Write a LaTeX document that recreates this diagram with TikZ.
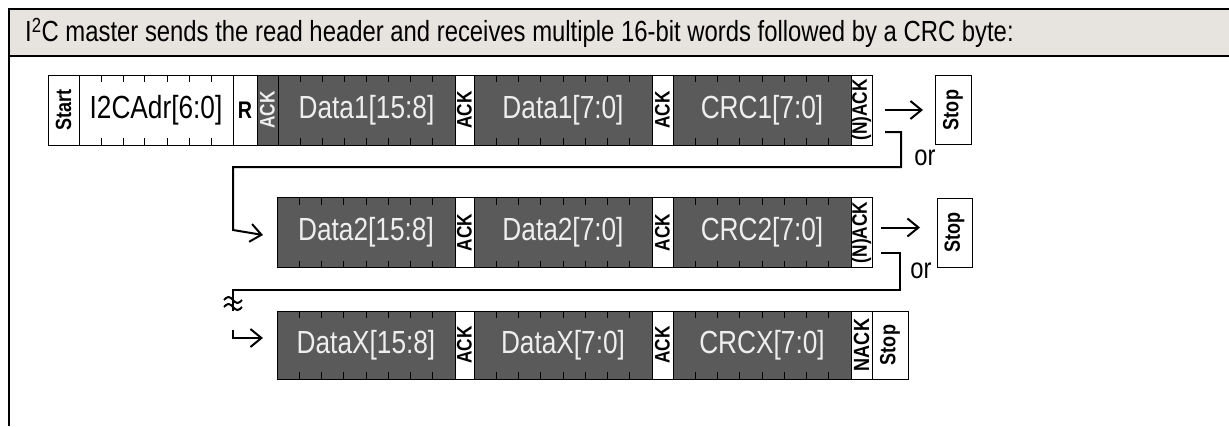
\documentclass[tikz,border=0pt]{standalone}
\usepackage{fontspec}
\setmainfont{Liberation Sans}[FakeStretch=0.82]
\usepackage{graphicx}
\usetikzlibrary{arrows.meta,calc}

\definecolor{headgrey}{HTML}{E7E3DF}
\definecolor{bytegrey}{HTML}{5A5A5A}
\definecolor{bytetext}{HTML}{EEEEEE}

\tikzset{
  field/.style={draw=black, line width=1pt, inner sep=0pt, outer sep=0pt,
    anchor=west, minimum height=70pt},
  lightfield/.style={field, fill=white, text=black},
  darkfield/.style={field, fill=bytegrey, text=bytetext},
  bytefont/.style={font=\fontsize{32}{34}\selectfont},
  bitfont/.style={font=\fontsize{21}{21}\selectfont\bfseries},
  stopfont/.style={font=\fontsize{22}{22}\selectfont\bfseries},
  tick/.style={line width=1pt, black},
  flowline/.style={line width=2pt, line join=miter},
  nextarrow/.style={flowline, -{Straight Barb[length=11pt,width=18pt,line width=2pt]}},
}
\newcommand{\vlabel}[1]{\rotatebox{90}{#1}}

\begin{document}
\begin{tikzpicture}[x=1pt, y=-1pt]
\useasboundingbox (0,0) rectangle (1229,426);

% frame and heading
\fill[headgrey] (9,9) rectangle (1229,56);
\draw[line width=2.5pt] (1229,9) -- (9,9) -- (9,426);
\draw[line width=2.5pt] (9,56) -- (1229,56);
\node[anchor=west, inner sep=0pt, font=\fontsize{29.1}{32}\selectfont] (title) at (25,33)
  {I\textsuperscript{2}C master sends the read header and receives multiple 16-bit words followed by a CRC byte:};

% first row: header and first word
\node[lightfield, stopfont, minimum width=31pt] (start) at (48,110) {\vlabel{Start}};
\node[lightfield, bytefont, minimum width=154pt] (adr) at (79,110) {I2CAdr[6:0]};
\node[lightfield, font=\fontsize{24}{24}\selectfont\bfseries, minimum width=24pt] (rd) at (233,110) {R};
\node[darkfield, bitfont, minimum width=21pt] (ack0) at (257,110) {\vlabel{ACK}};
\node[darkfield, bytefont, minimum width=177pt] (d1h) at (278,110) {Data1[15:8]};
\node[lightfield, bitfont, minimum width=19pt] (ack1) at (455,110) {\vlabel{ACK}};
\node[darkfield, bytefont, minimum width=178pt] (d1l) at (474,110) {Data1[7:0]};
\node[lightfield, bitfont, minimum width=21pt] (ack2) at (652,110) {\vlabel{ACK}};
\node[darkfield, bytefont, minimum width=178pt] (crc1) at (673,110) {CRC1[7:0]};
\node[lightfield, bitfont, minimum width=21pt] (nack1) at (851,110) {\vlabel{(N)ACK}};
\node[lightfield, stopfont, minimum width=36pt, minimum height=69pt] (stop1) at (935,110) {\vlabel{Stop}};

% second row
\node[darkfield, bytefont, minimum width=178pt] (d2h) at (277,232.5) {Data2[15:8]};
\node[lightfield, bitfont, minimum width=19pt] (ack3) at (455,232.5) {\vlabel{ACK}};
\node[darkfield, bytefont, minimum width=178pt] (d2l) at (474,232.5) {Data2[7:0]};
\node[lightfield, bitfont, minimum width=21pt] (ack4) at (652,232.5) {\vlabel{ACK}};
\node[darkfield, bytefont, minimum width=178pt] (crc2) at (673,232.5) {CRC2[7:0]};
\node[lightfield, bitfont, minimum width=21pt] (nack2) at (851,232.5) {\vlabel{(N)ACK}};
\node[lightfield, stopfont, minimum width=35pt, minimum height=69pt] (stop2) at (937,232.5) {\vlabel{Stop}};

% last row
\node[darkfield, bytefont, minimum width=178pt, minimum height=68pt] (dxh) at (277,345) {DataX[15:8]};
\node[lightfield, bitfont, minimum width=19pt, minimum height=68pt] (ack5) at (455,345) {\vlabel{ACK}};
\node[darkfield, bytefont, minimum width=178pt, minimum height=68pt] (dxl) at (474,345) {DataX[7:0]};
\node[lightfield, bitfont, minimum width=21pt, minimum height=68pt] (ack6) at (652,345) {\vlabel{ACK}};
\node[darkfield, bytefont, minimum width=178pt, minimum height=68pt] (crcx) at (673,345) {CRCX[7:0]};
\node[lightfield, stopfont, minimum width=21pt, minimum height=68pt] (nackx) at (851,345) {\vlabel{NACK}};
\node[lightfield, stopfont, minimum width=36pt, minimum height=68pt] (stopx) at (872,345) {\vlabel{Stop}};

% bit ticks
\foreach \f/\n in {adr/7, d1h/8, d1l/8, crc1/8, d2h/8, d2l/8, crc2/8, dxh/8, dxl/8, crcx/8}{
  \pgfmathtruncatemacro\m{\n-1}
  \foreach \i in {1,...,\m}{
    \draw[tick] ($(\f.north west)!\i/\n!(\f.north east)$) -- ++(0,7);
    \draw[tick] ($(\f.south west)!\i/\n!(\f.south east)$) -- ++(0,-7);
  }
}

% stop arrows
\draw[nextarrow] ([xshift=13pt]nack1.east) -- ([xshift=-12pt]stop1.west);
\draw[nextarrow] ([xshift=9pt,yshift=5pt]nack2.east) -- ([xshift=-17pt,yshift=5pt]stop2.west);

% repeat loops
\coordinate (ret1) at (885,132);
\coordinate (turn1) at (901,167);
\coordinate (lft2) at (233,230);
\coordinate (in2) at ([xshift=-14pt,yshift=-2.5pt]d2h.west);
\draw[nextarrow] (ret1) -| (turn1) -| (lft2) -- (in2);
\node[inner sep=0pt, font=\fontsize{29}{32}\selectfont] (or1) at (925,158) {or};

\coordinate (ret2) at (881,253);
\coordinate (turn2) at (900,290);
\coordinate (brk) at (233,311);
\coordinate (brkend) at (233,330);
\coordinate (in3) at ([xshift=-14pt,yshift=7pt]dxh.west);
\draw[flowline] (ret2) -| (turn2) -| (brk);
\draw[nextarrow] (brkend) |- (in3);
\node[inner sep=0pt, font=\fontsize{29}{32}\selectfont] (or2) at (921,271) {or};

% break mark
\draw[flowline] (224,300) sin (228.5,297) cos (233,300) sin (237.5,303) cos (242,300);
\draw[flowline] (224,307) sin (228.5,304) cos (233,307) sin (237.5,310) cos (242,307);
\end{tikzpicture}
\end{document}
